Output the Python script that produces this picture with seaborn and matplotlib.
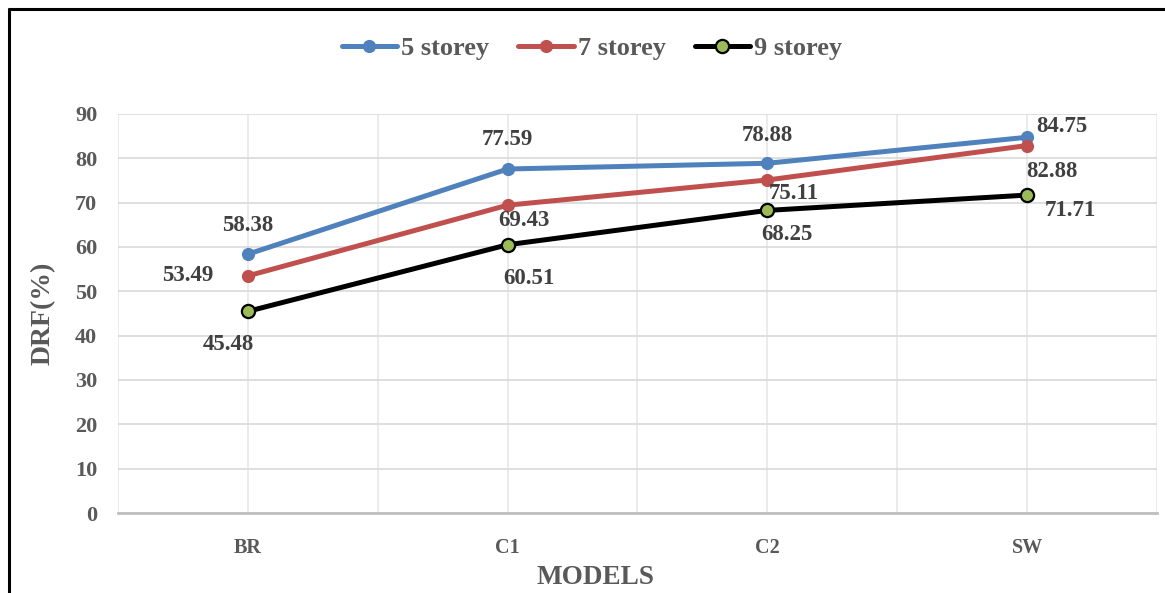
import numpy as np
import pandas as pd
import matplotlib.pyplot as plt
from matplotlib.ticker import MultipleLocator
import seaborn as sns

models = ['BR', 'C1', 'C2', 'SW']
storey5 = [58.38, 77.59, 78.88, 84.75]
storey7 = [53.49, 69.43, 75.11, 82.88]
storey9 = [45.48, 60.51, 68.25, 71.71]
names = ['5 storey', '7 storey', '9 storey']

sns.set_style('white')
plt.rcParams['font.family'] = ['Liberation Serif', 'DejaVu Serif']
plt.rcParams['font.weight'] = 'bold'

txt = '#595959'
fig = plt.figure(figsize=(11.65, 5.93), dpi=100)
ax = fig.add_axes([0.1013, 0.1349, 0.8918, 0.6729])

x = np.arange(len(models))
series = [storey5, storey7, storey9]
lcol = ['#4F81BD', '#C0504D', '#000000']
fcol = ['#4F81BD', '#C0504D', '#9BBB59']
ecol = ['#4F81BD', '#C0504D', '#000000']
for i in range(len(names)):
    sns.lineplot(x=x, y=series[i], ax=ax, color=lcol[i], lw=3.6, marker='o',
                 markersize=9.5, markerfacecolor=fcol[i], markeredgecolor=ecol[i],
                 markeredgewidth=1.6 if i == 2 else 0, label=names[i], zorder=3 + i)

# data labels, offsets in points
offs = [
    [(0, 21), (0, 21), (0, 20), (25, 8)],
    [(-43, 0), (12, -11), (19, -10), (18, -19)],
    [(-14, -24), (15, -24), (14, -17), (31, -11)],
]
for i in range(len(names)):
    for j in range(len(models)):
        ax.annotate(f'{series[i][j]:.2f}', (x[j], series[i][j]), xytext=offs[i][j],
                    textcoords='offset points', ha='center', va='center',
                    fontsize=16.5, fontweight='bold', color='#404040', zorder=10)

ax.set_xlim(-0.5, 3.5)
ax.set_ylim(0, 90)
ax.yaxis.set_major_locator(MultipleLocator(10))
ax.set_xticks(x)
ax.set_xticklabels(models)
ax.xaxis.set_minor_locator(MultipleLocator(0.5))
ax.grid(True, which='major', axis='y', color='#D9D9D9', lw=1.2)
ax.grid(True, which='both', axis='x', color='#E8E8E8', lw=1.2)
for s in ['top', 'right', 'left']:
    ax.spines[s].set_visible(False)
ax.spines['bottom'].set_color('#BFBFBF')
ax.spines['bottom'].set_linewidth(2)
ax.tick_params(axis='both', which='both', length=0, colors=txt)
ax.tick_params(axis='x', pad=18, labelsize=14.5)
ax.tick_params(axis='y', pad=15, labelsize=16)
for lab in ax.get_xticklabels() + ax.get_yticklabels():
    lab.set_fontweight('bold')

ax.set_xlabel('MODELS', fontsize=19.5, fontweight='bold', color=txt)
ax.xaxis.set_label_coords(0.46, -0.13)
ax.set_ylabel('DRF(%)', fontsize=20, fontweight='bold', color=txt)
ax.yaxis.set_label_coords(-0.06, 0.5)

leg = ax.legend(loc='center', bbox_to_anchor=(0.508, 0.918), bbox_transform=fig.transFigure,
                ncol=3, frameon=False, fontsize=19, handlelength=2.1,
                columnspacing=1.1, handletextpad=0.15)
for t in leg.get_texts():
    t.set_color(txt)
    t.set_fontweight('bold')

# outer chart border (left and top)
fig.add_artist(plt.Line2D([0.008, 0.008], [0, 0.985], color='black', lw=2.2,
                          transform=fig.transFigure))
fig.add_artist(plt.Line2D([0.008, 1.0], [0.984, 0.984], color='black', lw=2.2,
                          transform=fig.transFigure))

plt.savefig('out.png', dpi=100)
